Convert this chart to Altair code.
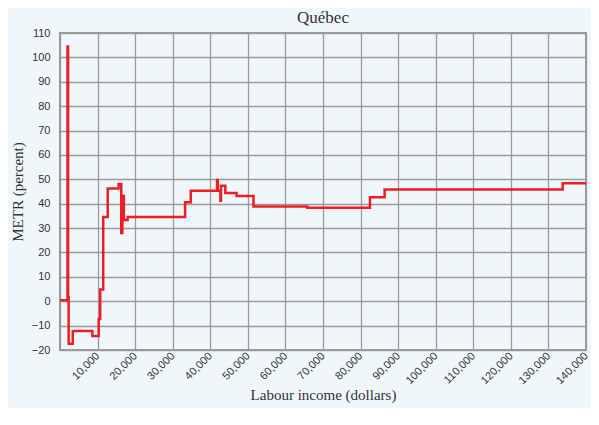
import altair as alt
import pandas as pd

income = [0, 2000, 2150, 2300, 3400, 8600, 10300, 10700, 11500, 12700, 15600,
          16300, 16600, 17000, 18000, 33300, 34800, 41800, 42000, 42700, 42850,
          44000, 47000, 51500, 65800, 82500, 86400, 133800, 140000]
metr = [0.4, 104.5, 1.7, -17.4, -12.2, -14.3, -7.3, 4.8, 34.5, 46.2, 48.1,
        28.0, 43.2, 33.3, 34.5, 40.6, 45.3, 49.7, 45.3, 41.2, 47.4,
        44.4, 43.2, 38.9, 38.3, 42.6, 45.8, 48.4, 48.4]

df = pd.DataFrame({"income": income, "metr": metr})

bg = "#F0F7FB"

chart = alt.Chart(df).mark_line(
    interpolate="step-after", color="#EE1C25", strokeWidth=2.5, clip=True
).encode(
    x=alt.X("income:Q",
            scale=alt.Scale(domain=[0, 140000], nice=False),
            axis=alt.Axis(values=list(range(0, 140001, 10000)),
                          labelExpr="datum.value == 0 ? '' : format(datum.value, ',d')",
                          labelAngle=-45, labelAlign="right", labelBaseline="middle",
                          labelPadding=4, ticks=False,
                          title="Labour income (dollars)", titlePadding=2)),
    y=alt.Y("metr:Q",
            scale=alt.Scale(domain=[-20, 110], nice=False),
            axis=alt.Axis(values=list(range(-20, 111, 10)), ticks=False,
                          labelPadding=10, title="METR (percent)", titlePadding=6)),
).properties(
    width=526, height=317,
    title=alt.TitleParams("Québec", font="Liberation Serif", fontSize=17,
                          fontWeight="normal", color="#333333", offset=0),
    background=bg,
    autosize=alt.AutoSizeParams(type="none"),
    padding={"left": 52, "top": 25, "right": 5, "bottom": 58},
).configure_axis(
    gridColor="#9a9a9a", gridWidth=1.3, domain=False,
    labelFont="Liberation Sans", labelFontSize=11, labelColor="#333333",
    titleFont="Liberation Serif", titleFontSize=15, titleFontWeight="normal",
    titleColor="#333333",
).configure_view(
    stroke="#999999", strokeWidth=2, fill=bg
)

chart.save("out.html", embed_options={"renderer": "svg", "actions": False})
